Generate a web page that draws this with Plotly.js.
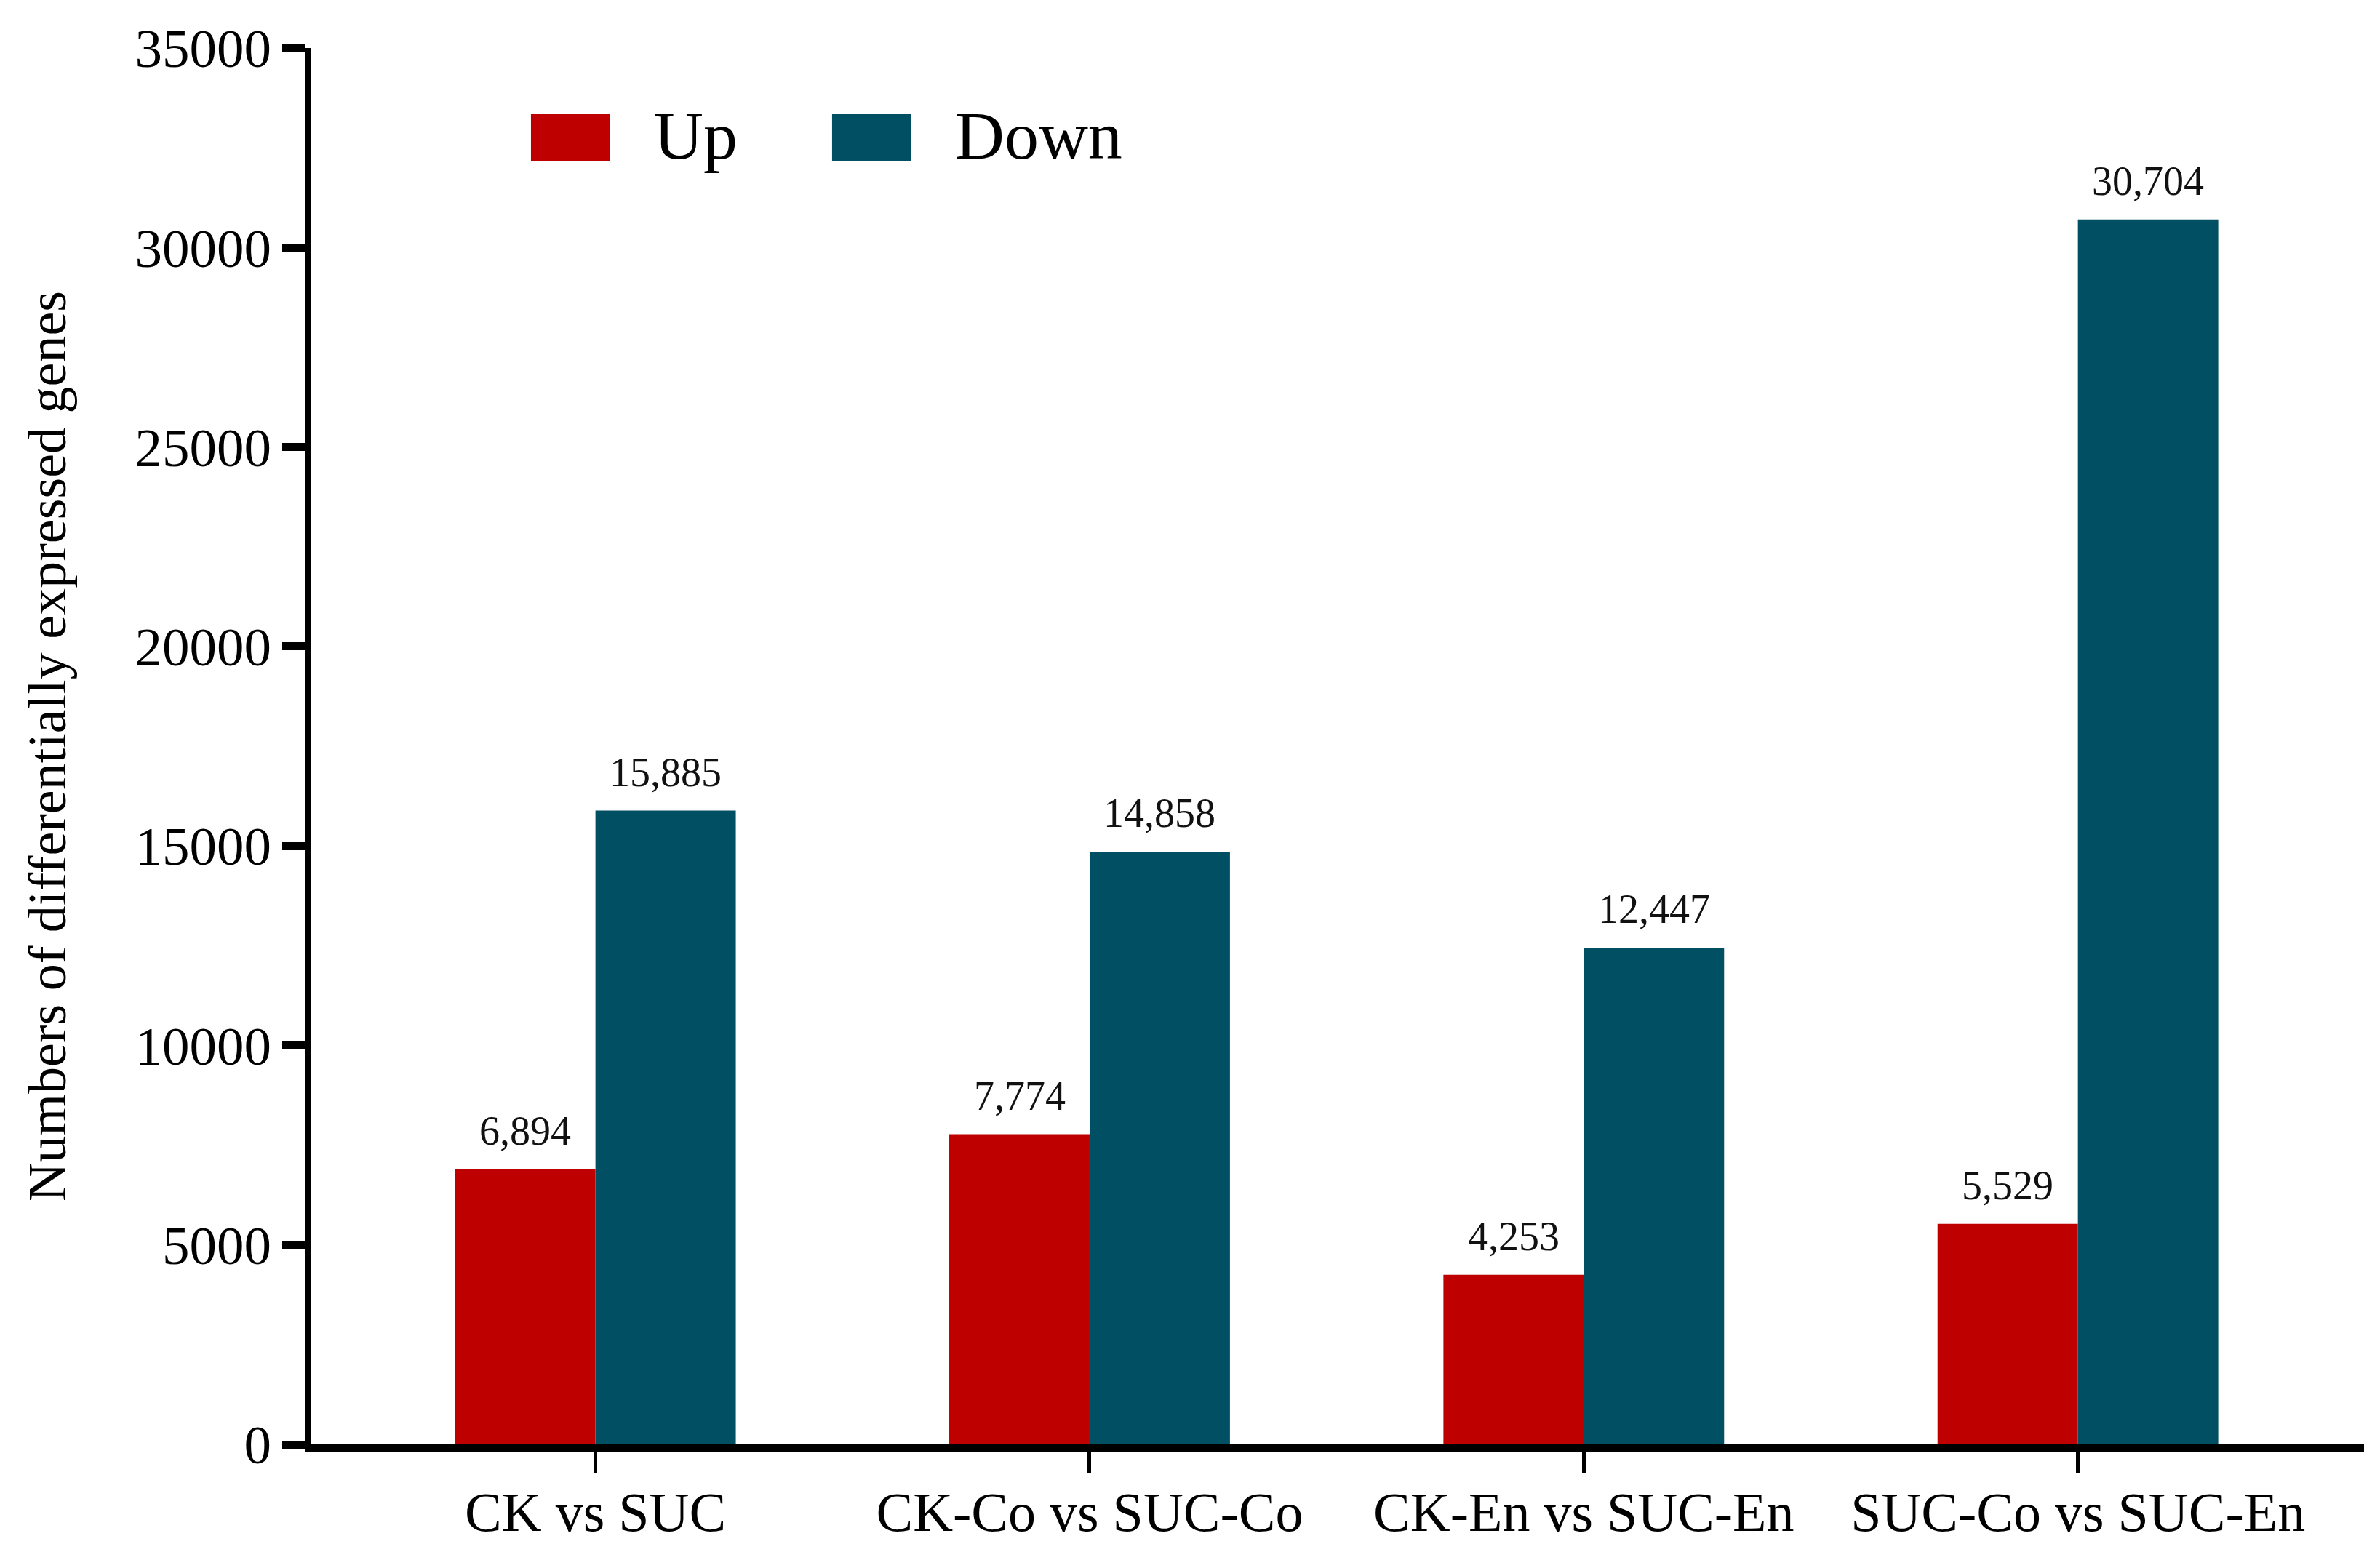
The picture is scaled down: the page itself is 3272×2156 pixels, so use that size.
<!DOCTYPE html>
<html>
<head>
<meta charset="utf-8">
<script src="https://cdn.plot.ly/plotly-3.0.1.min.js"></script>
<style>
  html, body { margin: 0; padding: 0; background: #ffffff; }
  #chart { width: 3272px; height: 2156px; }
</style>
</head>
<body>
<div id="chart"></div>
<script>
// ---- Data ----
const categories = ["CK vs SUC", "CK-Co vs SUC-Co", "CK-En vs SUC-En", "SUC-Co vs SUC-En"];
const upValues = [6894, 7774, 4253, 5529];
const downValues = [15885, 14858, 12447, 30704];
const seriesNames = ["Up", "Down"];
const yTickValues = [0, 5000, 10000, 15000, 20000, 25000, 30000, 35000];
const yTickLabels = ["0", "5000", "10000", "15000", "20000", "25000", "30000", "35000"];

// ---- Styles ----
const upColor = "#BF0000";
const downColor = "#004F62";
const fontFamily = "Liberation Serif, Times New Roman, serif";
const bargap = 0.432;
const barWidth = (1 - bargap) / 2;

const traces = [
  {
    type: "bar", name: seriesNames[0], x: categories, y: upValues,
    marker: { color: upColor, line: { width: 0 } },
    hoverinfo: "x+y+name"
  },
  {
    type: "bar", name: seriesNames[1], x: categories, y: downValues,
    marker: { color: downColor, line: { width: 0 } },
    hoverinfo: "x+y+name"
  }
];

const fmt = v => v.toLocaleString("en-US");
const annotations = [];
categories.forEach((c, i) => {
  annotations.push({
    x: i - barWidth / 2, y: upValues[i], xref: "x", yref: "y",
    text: fmt(upValues[i]), showarrow: false, yanchor: "bottom", yshift: 20,
    font: { family: fontFamily, size: 56, color: "#111" }
  });
  annotations.push({
    x: i + barWidth / 2, y: downValues[i], xref: "x", yref: "y",
    text: fmt(downValues[i]), showarrow: false, yanchor: "bottom", yshift: 20,
    font: { family: fontFamily, size: 56, color: "#111" }
  });
});

// custom legend
const legendY = 0.9375;
annotations.push({
  x: 0.1662, y: legendY, xref: "paper", yref: "paper", xanchor: "left", yanchor: "middle",
  text: seriesNames[0], showarrow: false, font: { family: fontFamily, size: 94, color: "#000" }
});
annotations.push({
  x: 0.3129, y: legendY, xref: "paper", yref: "paper", xanchor: "left", yanchor: "middle",
  text: seriesNames[1], showarrow: false, font: { family: fontFamily, size: 94, color: "#000" }
});
const shapes = [
  { type: "rect", xref: "paper", yref: "paper", x0: 0.1070, x1: 0.1456, y0: 0.9193, y1: 0.9526,
    fillcolor: upColor, line: { width: 0 } },
  { type: "rect", xref: "paper", yref: "paper", x0: 0.2537, x1: 0.2920, y0: 0.9193, y1: 0.9526,
    fillcolor: downColor, line: { width: 0 } }
];

const layout = {
  width: 3272, height: 2156,
  margin: { l: 428, r: 22, t: 66, b: 170, pad: 0 },
  paper_bgcolor: "#ffffff", plot_bgcolor: "#ffffff",
  barmode: "group", bargap: bargap, bargroupgap: 0,
  showlegend: false,
  font: { family: fontFamily, color: "#000" },
  xaxis: {
    type: "category",
    range: [-0.575, 3.579],
    showline: true, linecolor: "#000", linewidth: 10,
    ticks: "outside", ticklen: 30, tickwidth: 5, tickcolor: "#000",
    tickfont: { family: fontFamily, size: 76, color: "#000" },
    ticklabelstandoff: -12,
    showgrid: false, zeroline: false, automargin: false, fixedrange: true
  },
  yaxis: {
    range: [0, 35000],
    tickvals: yTickValues, ticktext: yTickLabels,
    showline: true, linecolor: "#000", linewidth: 9,
    ticks: "outside", ticklen: 31, tickwidth: 11, tickcolor: "#000",
    tickfont: { family: fontFamily, size: 75, color: "#000" },
    ticklabelstandoff: 0,
    title: { text: "Numbers of differentially expressed genes", font: { family: fontFamily, size: 74, color: "#000" }, standoff: 74 },
    showgrid: false, zeroline: false, automargin: false, fixedrange: true
  },
  annotations: annotations,
  shapes: shapes
};

Plotly.newPlot("chart", traces, layout, { displayModeBar: false, staticPlot: true });
</script>
</body>
</html>
